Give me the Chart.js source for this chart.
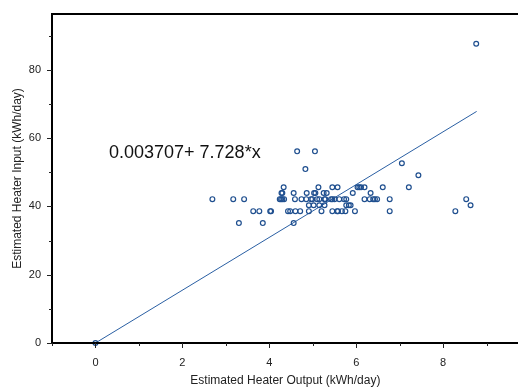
<!DOCTYPE html>
<html>
<head>
<meta charset="utf-8">
<script src="https://cdn.jsdelivr.net/npm/chart.js@4"></script>
<style>
  html, body { margin: 0; padding: 0; background: #fff; }
  #wrap { width: 518px; height: 388px; position: relative; overflow: hidden; }
</style>
</head>
<body>
<div id="wrap"><canvas id="c" width="524" height="388"></canvas></div>
<script>
'use strict';

// ── Data ─────────────────────────────────────────────────────
const outputX = [
  0,
  2.69, 3.17, 3.42, 4.24, 4.27, 4.30, 4.34, 4.59, 4.74, 4.85, 4.96, 4.99, 5.10, 5.15, 5.27, 5.29,
  5.42, 5.45, 5.50, 5.61, 5.72, 5.77, 6.19, 6.31, 6.39, 6.43, 6.48, 6.77, 8.53,
  3.63, 3.77, 4.02, 4.04, 4.43, 4.48, 4.60, 4.71, 4.91, 5.20, 5.45, 5.56, 5.58, 5.67, 5.75, 5.97, 6.77, 8.28,
  3.30, 3.85, 4.56,
  4.91, 5.02, 5.15, 5.27, 5.77, 5.83, 5.87, 8.63,
  4.28, 4.30, 4.56, 4.86, 5.03, 5.06, 5.25, 5.32, 5.92, 6.33,
  4.33, 5.13, 5.45, 5.57, 6.03, 6.07, 6.11, 6.19, 6.61, 7.21,
  7.43, 7.05, 4.83, 4.64, 5.05,
  8.76
];
const inputY = [
  0,
  42.1, 42.1, 42.1, 42.1, 42.1, 42.1, 42.1, 42.1, 42.1, 42.1, 42.1, 42.1, 42.1, 42.1, 42.1, 42.1,
  42.1, 42.1, 42.1, 42.1, 42.1, 42.1, 42.1, 42.1, 42.1, 42.1, 42.1, 42.1, 42.1,
  38.6, 38.6, 38.6, 38.6, 38.6, 38.6, 38.6, 38.6, 38.6, 38.6, 38.6, 38.6, 38.6, 38.6, 38.6, 38.6, 38.6, 38.6,
  35.1, 35.1, 35.1,
  40.3, 40.3, 40.3, 40.3, 40.3, 40.3, 40.3, 40.3,
  43.9, 43.9, 43.9, 43.9, 43.9, 43.9, 43.9, 43.9, 43.9, 43.9,
  45.6, 45.6, 45.6, 45.6, 45.6, 45.6, 45.6, 45.6, 45.6, 45.6,
  49.1, 52.6, 50.9, 56.1, 56.1,
  87.6
];

// fitted line endpoints
const fitX = [0, 8.77];
const fitY = [0.0037, 67.78];
const fitLabel = '0.003707+ 7.728*x';

const xMajorTicks = [0, 2, 4, 6, 8];
const xMinorTicks = [-1, 1, 3, 5, 7, 9];
const yMajorTicks = [0, 20, 40, 60, 80];
const yMinorTicks = [10, 30, 50, 70, 90];

const xTitle = 'Estimated Heater Output (kWh/day)';
const yTitle = 'Estimated Heater Input (kWh/day)';

const FONT = "'Liberation Sans', Arial, sans-serif";
const POINT_COLOR = '#1f4f8f';
const LINE_COLOR  = '#2a5fa3';

// ── Frame, tick marks and annotation ─────────────────────────
const framePlugin = {
  id: 'frame',
  afterDatasetsDraw(chart) {
    const { ctx, chartArea: a, scales: { x, y } } = chart;
    ctx.save();
    ctx.strokeStyle = '#000';
    ctx.lineWidth = 2;
    ctx.beginPath();
    ctx.moveTo(a.right + 2, a.top);
    ctx.lineTo(a.left, a.top);
    ctx.lineTo(a.left, a.bottom);
    ctx.lineTo(a.right + 2, a.bottom);
    ctx.stroke();

    ctx.lineWidth = 1;
    ctx.strokeStyle = '#222';
    ctx.beginPath();
    xMajorTicks.forEach(v => {
      const px = Math.round(x.getPixelForValue(v)) + 0.5;
      ctx.moveTo(px, a.bottom); ctx.lineTo(px, a.bottom + 5);
    });
    xMinorTicks.forEach(v => {
      const px = Math.round(x.getPixelForValue(v)) + 0.5;
      ctx.moveTo(px, a.bottom); ctx.lineTo(px, a.bottom + 3);
    });
    yMajorTicks.forEach(v => {
      const py = Math.round(y.getPixelForValue(v)) + 0.5;
      ctx.moveTo(a.left, py); ctx.lineTo(a.left - 5, py);
    });
    yMinorTicks.forEach(v => {
      const py = Math.round(y.getPixelForValue(v)) + 0.5;
      ctx.moveTo(a.left, py); ctx.lineTo(a.left - 3, py);
    });
    ctx.stroke();

    ctx.fillStyle = '#111';
    ctx.font = '18px ' + FONT;
    ctx.textBaseline = 'alphabetic';
    ctx.fillText(fitLabel, 109, 158);
    ctx.restore();
  }
};

new Chart(document.getElementById('c'), {
  type: 'scatter',
  data: {
    datasets: [
      {
        data: outputX.map((v, i) => ({ x: v, y: inputY[i] })),
        pointStyle: 'circle',
        radius: 2.4,
        borderWidth: 1.2,
        borderColor: POINT_COLOR,
        backgroundColor: 'rgba(255,255,255,0)',
        clip: false,
        order: 1
      },
      {
        type: 'line',
        data: fitX.map((v, i) => ({ x: v, y: fitY[i] })),
        borderColor: LINE_COLOR,
        borderWidth: 1,
        pointRadius: 0,
        fill: false,
        order: 2
      }
    ]
  },
  options: {
    responsive: false,
    animation: false,
    events: [],
    layout: { padding: { top: 14, left: 0, right: 0, bottom: 0 } },
    plugins: { legend: { display: false }, tooltip: { enabled: false } },
    scales: {
      x: {
        type: 'linear',
        min: -1,
        max: 9.74,
        afterFit: s => { s.height = 45; },
        afterBuildTicks: s => { s.ticks = xMajorTicks.map(v => ({ value: v })); },
        grid: { display: false, drawTicks: true, tickLength: 13 },
        border: { display: false },
        ticks: { padding: 0, color: '#222', font: { family: FONT, size: 11 }, maxRotation: 0 },
        title: { display: true, text: xTitle, color: '#222', font: { family: FONT, size: 12 }, padding: { top: 0, bottom: 0 } }
      },
      y: {
        type: 'linear',
        min: 0,
        max: 96.3,
        afterFit: s => { s.width = 52; },
        afterBuildTicks: s => { s.ticks = yMajorTicks.map(v => ({ value: v })); },
        grid: { display: false, drawTicks: true, tickLength: 11 },
        border: { display: false },
        ticks: { padding: 0, color: '#222', font: { family: FONT, size: 11 } },
        title: { display: true, text: yTitle, color: '#222', font: { family: FONT, size: 12 }, padding: { top: 10, bottom: 0 } }
      }
    }
  },
  plugins: [framePlugin]
});
</script>
</body>
</html>
